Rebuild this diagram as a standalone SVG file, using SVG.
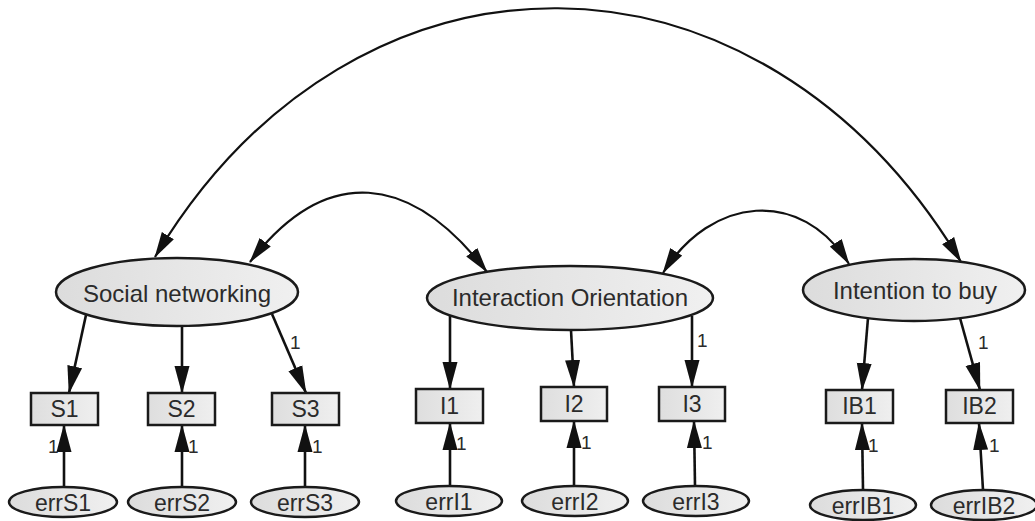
<svg xmlns="http://www.w3.org/2000/svg" width="1035" height="521" viewBox="0 0 1035 521">
  <defs>
    <linearGradient id="fillLatent" x1="0" y1="0" x2="1" y2="0">
      <stop offset="0" stop-color="#dcdcdc"/>
      <stop offset="1" stop-color="#f0f0f0"/>
    </linearGradient>
    <linearGradient id="fillBox" x1="0" y1="0" x2="1" y2="0">
      <stop offset="0" stop-color="#dedede"/>
      <stop offset="1" stop-color="#efefef"/>
    </linearGradient>
    <marker id="head" markerUnits="userSpaceOnUse" viewBox="0 0 28 16" markerWidth="28" markerHeight="16" refX="27" refY="8" orient="auto-start-reverse">
      <path d="M0,0.5 L28,8 L0,15.5 z" fill="#111"/>
    </marker>
    <marker id="headSmall" markerUnits="userSpaceOnUse" viewBox="0 0 26 15" markerWidth="26" markerHeight="15" refX="25" refY="7.5" orient="auto-start-reverse">
      <path d="M0,0.5 L26,7.5 L0,14.5 z" fill="#111"/>
    </marker>
    <style>
      .latent { fill: url(#fillLatent); stroke: #1a1a1a; stroke-width: 2.5; }
      .box { fill: url(#fillBox); stroke: #1a1a1a; stroke-width: 2.5; }
      .err { fill: url(#fillLatent); stroke: #1a1a1a; stroke-width: 2.5; }
      .lbl { font-family: "Liberation Sans", Arial, sans-serif; fill: #2b2b2b; text-anchor: middle; }
      .big { font-size: 24px; }
      .mid { font-size: 23px; }
      .one { font-family: "Liberation Sans", Arial, sans-serif; font-size: 19px; fill: #2b2b2b; }
      .path { fill: none; stroke: #111; stroke-width: 2.6; marker-end: url(#head); }
      .cov { fill: none; stroke: #111; stroke-width: 2.2; marker-start: url(#headSmall); marker-end: url(#headSmall); }
    </style>
  </defs>

  <rect x="0" y="0" width="1035" height="521" fill="#ffffff"/>

  <!-- connectors: covariances, loadings, error terms -->
  <g id="connectors">
    <path class="cov" d="M155,257 C356,-78 760,-73 961,262"/>
    <path class="cov" d="M250,262 C326,163 411,173 487,272"/>
    <path class="cov" d="M663,273 C711,196 801,187 849,264"/>

    <line class="path" x1="86" y1="315" x2="69" y2="393"/>
    <line class="path" x1="182" y1="326" x2="182" y2="393"/>
    <line class="path" x1="272" y1="314" x2="306" y2="393"/>

    <line class="path" x1="450" y1="316" x2="450" y2="389"/>
    <line class="path" x1="571" y1="330" x2="574" y2="387"/>
    <line class="path" x1="692" y1="316" x2="692" y2="387"/>

    <line class="path" x1="868" y1="318" x2="862" y2="390"/>
    <line class="path" x1="960" y1="318" x2="980" y2="390"/>

    <line class="path" x1="64" y1="487" x2="64" y2="425"/>
    <line class="path" x1="182" y1="487" x2="182" y2="425"/>
    <line class="path" x1="305" y1="487" x2="305" y2="425"/>
    <line class="path" x1="450" y1="486" x2="450" y2="423"/>
    <line class="path" x1="574" y1="486" x2="574" y2="421"/>
    <line class="path" x1="695" y1="486" x2="694" y2="421"/>
    <line class="path" x1="863" y1="490" x2="862" y2="423"/>
    <line class="path" x1="983" y1="490" x2="979" y2="423"/>

    <!-- fixed path coefficients -->
    <text class="one" x="290" y="349">1</text>
    <text class="one" x="697" y="347">1</text>
    <text class="one" x="978" y="349">1</text>
    <text class="one" x="48" y="453">1</text>
    <text class="one" x="188" y="453">1</text>
    <text class="one" x="312" y="453">1</text>
    <text class="one" x="456" y="450">1</text>
    <text class="one" x="581" y="449">1</text>
    <text class="one" x="702" y="449">1</text>
    <text class="one" x="868" y="452">1</text>
    <text class="one" x="989" y="452">1</text>
  </g>

  <!-- latent variables -->
  <g id="social-networking">
    <ellipse class="latent" cx="177" cy="292" rx="121" ry="34"/>
    <text class="lbl big" x="177" y="302">Social networking</text>
  </g>
  <g id="interaction-orientation">
    <ellipse class="latent" cx="570" cy="298" rx="143" ry="32"/>
    <text class="lbl big" x="570" y="306">Interaction Orientation</text>
  </g>
  <g id="intention-to-buy">
    <ellipse class="latent" cx="914" cy="290" rx="111" ry="31"/>
    <text class="lbl big" x="915" y="299">Intention to buy</text>
  </g>

  <!-- observed indicators -->
  <g id="S1"><rect class="box" x="31" y="393" width="67" height="32"/><text class="lbl mid" x="64.5" y="417">S1</text></g>
  <g id="S2"><rect class="box" x="148" y="393" width="67" height="32"/><text class="lbl mid" x="181.5" y="417">S2</text></g>
  <g id="S3"><rect class="box" x="272" y="393" width="67" height="32"/><text class="lbl mid" x="305.5" y="417">S3</text></g>
  <g id="I1"><rect class="box" x="416" y="389" width="67" height="34"/><text class="lbl mid" x="449.5" y="414">I1</text></g>
  <g id="I2"><rect class="box" x="541" y="387" width="66" height="34"/><text class="lbl mid" x="574" y="412">I2</text></g>
  <g id="I3"><rect class="box" x="659" y="387" width="66" height="34"/><text class="lbl mid" x="692" y="412">I3</text></g>
  <g id="IB1"><rect class="box" x="826" y="390" width="67" height="33"/><text class="lbl mid" x="859.5" y="414">IB1</text></g>
  <g id="IB2"><rect class="box" x="946" y="390" width="67" height="33"/><text class="lbl mid" x="979.5" y="414">IB2</text></g>

  <!-- error terms -->
  <g id="errS1"><ellipse class="err" cx="63" cy="502" rx="54" ry="15"/><text class="lbl mid" x="63" y="511">errS1</text></g>
  <g id="errS2"><ellipse class="err" cx="182" cy="502" rx="54" ry="15"/><text class="lbl mid" x="182" y="511">errS2</text></g>
  <g id="errS3"><ellipse class="err" cx="305" cy="502" rx="54" ry="15"/><text class="lbl mid" x="305" y="511">errS3</text></g>
  <g id="errI1"><ellipse class="err" cx="449" cy="501" rx="53" ry="15"/><text class="lbl mid" x="449" y="510">errI1</text></g>
  <g id="errI2"><ellipse class="err" cx="575" cy="501" rx="53" ry="15"/><text class="lbl mid" x="575" y="510">errI2</text></g>
  <g id="errI3"><ellipse class="err" cx="696" cy="501" rx="53" ry="15"/><text class="lbl mid" x="696" y="510">errI3</text></g>
  <g id="errIB1"><ellipse class="err" cx="863" cy="505" rx="53" ry="15"/><text class="lbl mid" x="863" y="514">errIB1</text></g>
  <g id="errIB2"><ellipse class="err" cx="984" cy="505" rx="53" ry="15"/><text class="lbl mid" x="984" y="514">errIB2</text></g>
</svg>
